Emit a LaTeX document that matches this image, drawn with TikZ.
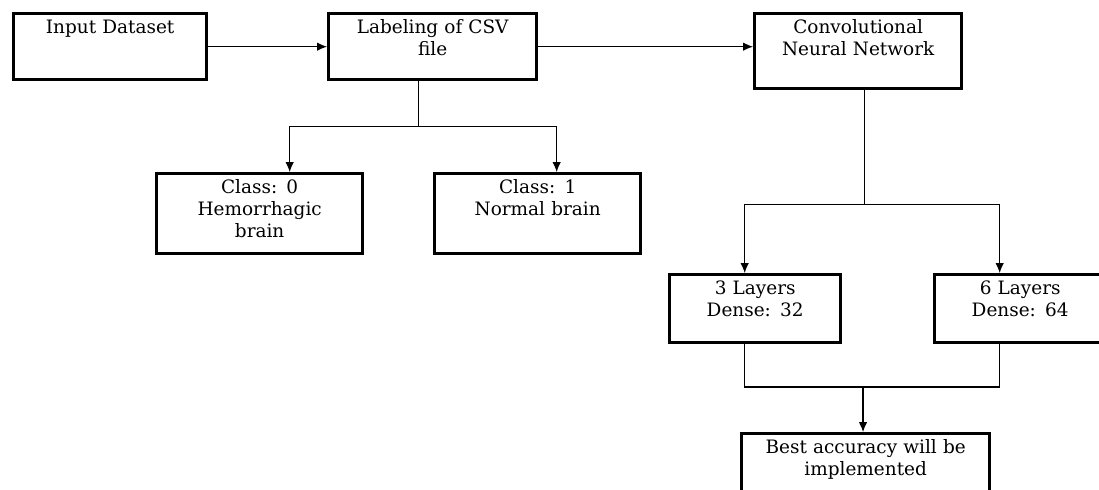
\documentclass[tikz,border=0pt]{standalone}
\usepackage{fontspec}
\setmainfont{DejaVu Serif}
\usetikzlibrary{positioning,arrows.meta}

\begin{document}
\begin{tikzpicture}[
    box/.style={draw, line width=1.9pt, inner sep=0pt, anchor=north west, align=center,
        text height=0.4cm, font=\fontsize{10.5}{12.5}\selectfont},
    link/.style={line width=0.6pt},
    arrow/.style={link, -{Latex[length=2mm,width=1.7mm]}}
]
    \useasboundingbox (0,0) rectangle (21.98,-9.78);

    % Top row
    \node[box, text width=3.86cm, text depth=0.92cm] (input) at (0.24,-0.24) {Input Dataset};
    \node[box, text width=4.16cm, text depth=0.92cm] (labeling) at (6.54,-0.24) {Labeling of CSV\\file};
    \node[box, text width=4.14cm, text depth=1.10cm] (cnn) at (15.06,-0.24) {Convolutional\\Neural Network};

    % Classes
    \node[box, text width=4.12cm, text depth=1.2cm] (class0) at (3.10,-3.44) {Class: 0\\Hemorrhagic\\brain};
    \node[box, text width=4.12cm, text depth=1.2cm] (class1) at (8.66,-3.44) {Class: 1\\Normal brain};

    % Models
    \node[box, text width=3.42cm, text depth=0.96cm] (layers3) at (13.36,-5.46) {3 Layers\\Dense: 32};
    \node[box, text width=3.42cm, text depth=0.96cm] (layers6) at (18.66,-5.46) {6 Layers\\Dense: 64};
    \node[box, text width=4.96cm, text depth=0.8cm] (best) at (14.80,-8.64) {Best accuracy will be\\implemented};

    % Connectors
    \draw[arrow] (input.east) -- (labeling.west);
    \draw[arrow] (labeling.east) -- (labeling.east -| cnn.west);

    \draw[link] ([xshift=-0.28cm]labeling.south) -- ++(0,-0.9) coordinate (split1);
    \draw[arrow] (split1) -| ([xshift=0.6cm]class0.north);
    \draw[arrow] (split1) -| ([xshift=0.38cm]class1.north);

    \draw[link] ([xshift=0.13cm]cnn.south) -- ++(0,-2.28) coordinate (split2);
    \draw[arrow] (split2) -| ([xshift=-0.21cm]layers3.north);
    \draw[arrow] (split2) -| ([xshift=-0.41cm]layers6.north);

    \coordinate (merge) at (17.26,-7.74);
    \draw[link] ([xshift=-0.21cm]layers3.south) |- (merge) -| ([xshift=-0.41cm]layers6.south);
    \draw[arrow] (merge) -- (merge |- best.north);
\end{tikzpicture}
\end{document}
